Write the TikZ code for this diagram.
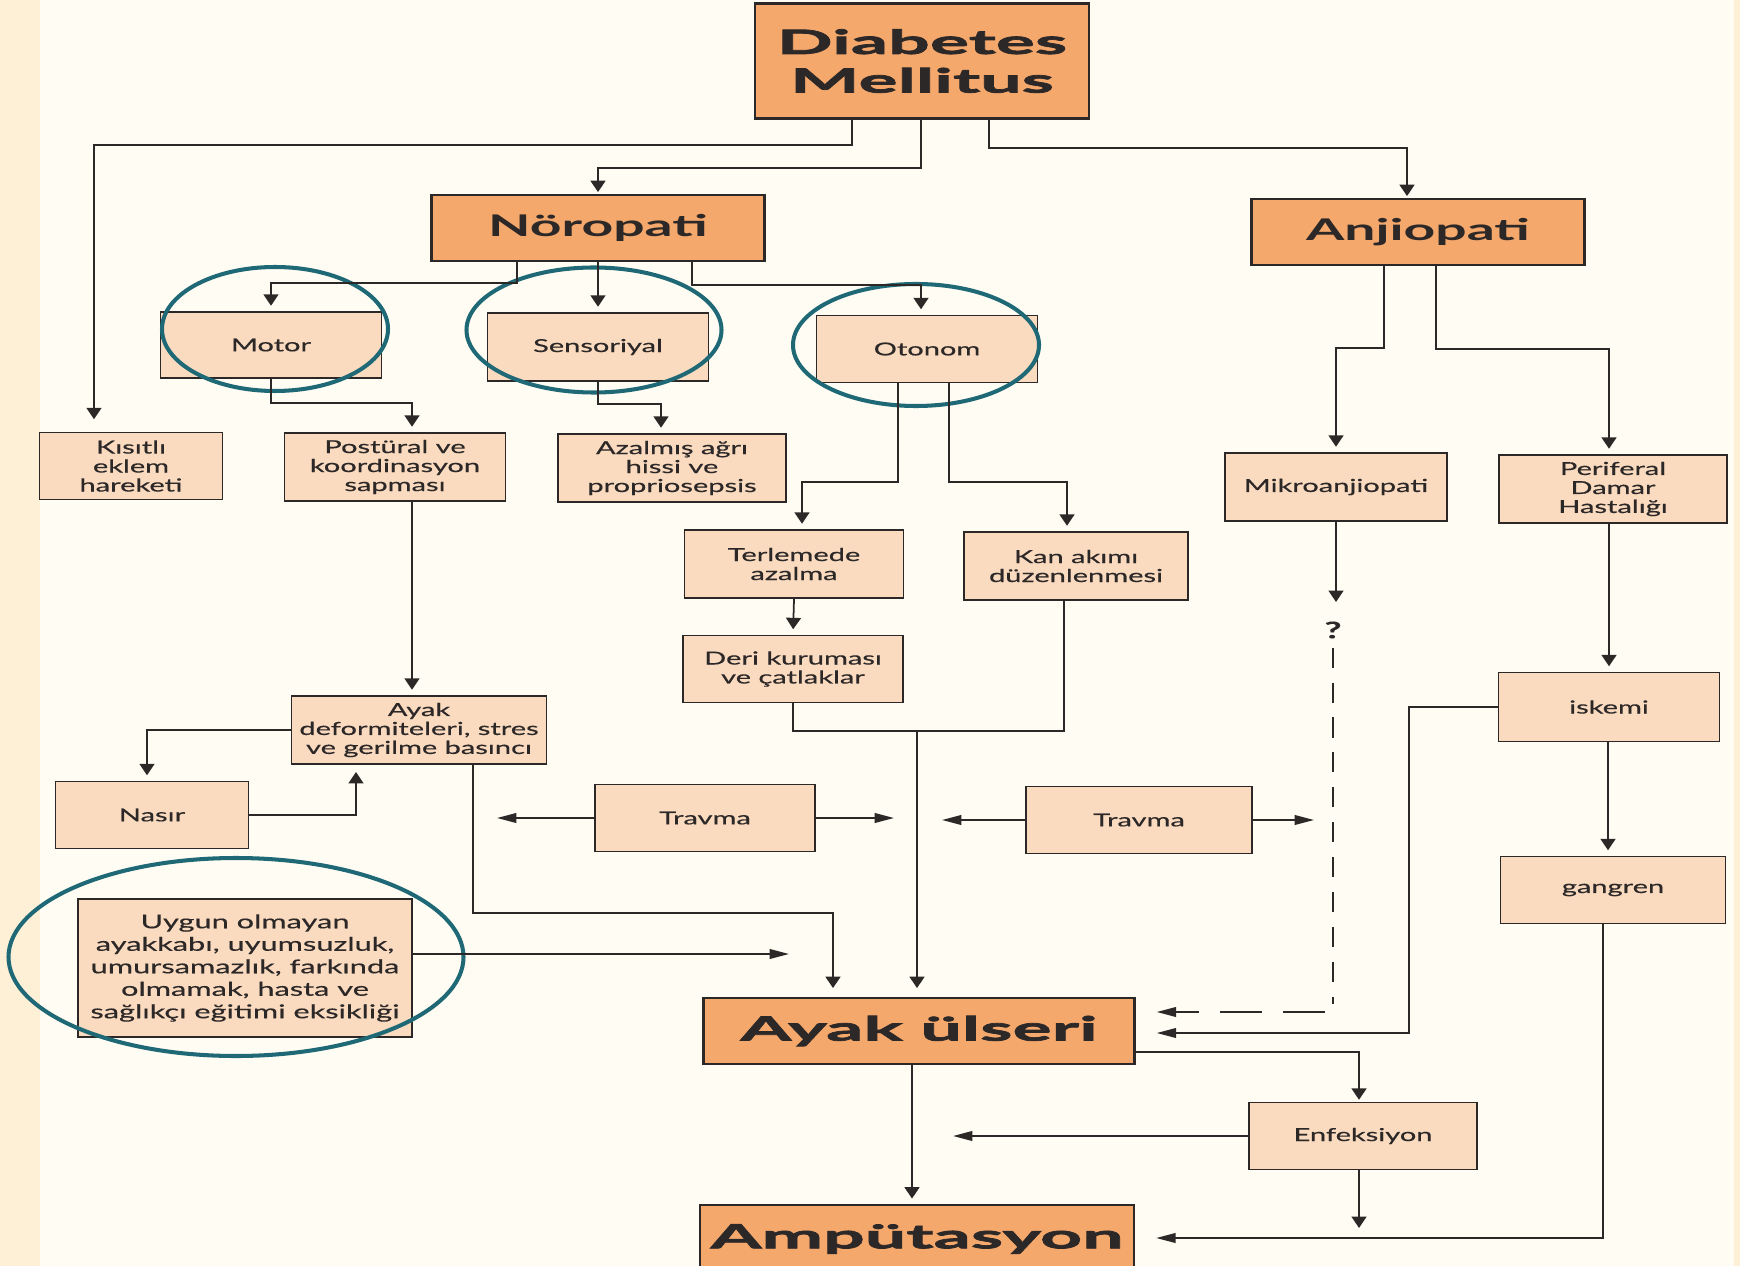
\documentclass[tikz,border=0pt]{standalone}
\usepackage{fontspec}
\setmainfont{Lato}[FakeStretch=1.62, FakeBold=0.4]
\newfontfamily\titlefont{Lato}[FakeStretch=1.85]
\newfontfamily\heavyfont{Lato}[FakeStretch=2.2, BoldFeatures={FakeBold=2.2}]
\usetikzlibrary{shapes.geometric,arrows.meta}

\definecolor{bgcream}{RGB}{255,253,243}
\definecolor{stripe}{RGB}{254,240,214}
\definecolor{darkorange}{RGB}{245,168,108}
\definecolor{peach}{RGB}{250,219,192}
\definecolor{ringteal}{RGB}{31,104,118}
\definecolor{inkgrey}{RGB}{45,40,40}

\begin{document}
\begin{tikzpicture}[%
    x=0.02cm, y=-0.02cm,
    boxsize/.style 2 args={%
        minimum width=#1*0.02cm,
        minimum height=#2*0.02cm
    },
    mainbox/.style={%
        draw=inkgrey,
        line width=1.3pt,
        fill=darkorange,
        inner sep=0pt,
        align=center,
        text=inkgrey,
        font=\heavyfont\bfseries\fontsize{19}{22}\selectfont
    },
    headbox/.style={%
        draw=inkgrey,
        line width=1.3pt,
        fill=darkorange,
        inner sep=0pt,
        align=center,
        text=inkgrey,
        font=\titlefont\bfseries\fontsize{17}{20}\selectfont
    },
    subbox/.style={%
        draw=inkgrey,
        line width=1.1pt,
        fill=peach,
        inner sep=0pt,
        align=center,
        text=inkgrey,
        font=\fontsize{10.2}{10.8}\selectfont
    },
    ring/.style={%
        draw=ringteal,
        line width=2.3pt,
        ellipse,
        inner sep=0pt
    },
    qmark/.style={%
        inner sep=1pt,
        text=inkgrey,
        font=\bfseries\fontsize{13}{14}\selectfont
    },
    link/.style={draw=inkgrey, line width=1pt},
    flow/.style={link, ->, shorten >=3pt},
    flowh/.style={link, -{Triangle[length=11pt,width=5.5pt]}},
    >={Triangle[length=6.5pt,width=8.5pt]}
]

% Page
    \fill[bgcream] (0,0) rectangle (1740,1266);
    \fill[stripe] (0,0) rectangle (40,1266);
    \fill[stripe] (1734,0) rectangle (1740,1266);
    \useasboundingbox (0,0) rectangle (1740,1266);

% Top level
    \node[mainbox, boxsize={334}{115}] (dm) at (922,61) {Diabetes\\Mellitus};
    \node[headbox, boxsize={333}{66}] (noro) at (598,228) {Nöropati};
    \node[headbox, boxsize={333}{66}] (anjio) at (1418,232) {Anjiopati};

% Neuropathy branch
    \node[subbox, boxsize={221}{66}] (motor) at (271,345) {Motor};
    \node[subbox, boxsize={221}{68}] (senso) at (598,347) {Sensoriyal};
    \node[subbox, boxsize={221}{67}] (otonom) at (927,349) {Otonom};

    \node[subbox, boxsize={183}{67}] (kisitli) at (131,466) {Kısıtlı\\eklem\\hareketi};
    \node[subbox, boxsize={221}{68}] (postural) at (395,467) {Postüral ve\\koordinasyon\\sapması};
    \node[subbox, boxsize={228}{68}] (azalmis) at (672,468) {Azalmış ağrı\\hissi ve\\propriosepsis};
    \node[subbox, boxsize={219}{68}] (terleme) at (794,564) {Terlemede\\azalma};
    \node[subbox, boxsize={224}{68}] (kan) at (1076,566) {Kan akımı\\düzenlenmesi};
    \node[subbox, boxsize={220}{67}] (deri) at (793,669) {Deri kuruması\\ve çatlaklar};

    \node[subbox, boxsize={255}{68}] (ayakdef) at (419,730) {Ayak\\deformiteleri, stres\\ve gerilme basıncı};
    \node[subbox, boxsize={193}{67}] (nasir) at (152,815) {Nasır};
    \node[subbox, boxsize={220}{67}] (travma1) at (705,818) {Travma};
    \node[subbox, boxsize={226}{67}] (travma2) at (1139,820) {Travma};
    \node[subbox, boxsize={334}{138}, font=\fontsize{10.8}{12.8}\selectfont] (uygun) at (245,968)
        {Uygun olmayan\\ayakkabı, uyumsuzluk,\\umursamazlık, farkında\\olmamak, hasta ve\\sağlıkçı eğitimi eksikliği};

% Angiopathy branch
    \node[subbox, boxsize={222}{68}] (mikro) at (1336,487) {Mikroanjiopati};
    \node[subbox, boxsize={228}{68}] (periferal) at (1613,489) {Periferal\\Damar\\Hastalığı};
    \node[subbox, boxsize={221}{69}] (iskemi) at (1609,707) {iskemi};
    \node[subbox, boxsize={225}{67}] (gangren) at (1613,890) {gangren};
    \node[qmark] (q) at (1333,630) {?};

% Outcome
    \node[mainbox, boxsize={431}{66}] (ulser) at (919,1031) {Ayak ülseri};
    \node[subbox, boxsize={228}{67}] (enfek) at (1363,1136) {Enfeksiyon};
    \node[mainbox, boxsize={434}{68}] (amput) at (917,1239) {Ampütasyon};

% Rings
    \node[ring, boxsize={226}{124}] (motorring) at (275,329) {};
    \node[ring, boxsize={255}{125}] (sensoring) at (594,330) {};
    \node[ring, boxsize={246}{122}] (otonomring) at (916,345) {};
    \node[ring, boxsize={455}{198}] (uygunring) at (236,957) {};

% Free ends
    \coordinate (merge) at (917,731);
    \coordinate (uygunend) at (789,954);
    \coordinate (travma1l) at (497,818);
    \coordinate (travma1r) at (894,818);
    \coordinate (travma2l) at (942,820);
    \coordinate (travma2r) at (1314,820);
    \coordinate (mikroend) at (1336,602);
    \coordinate (enfekl) at (953,1136);
    \coordinate (enfekd) at (1359,1228);

% Arrows
\draw[flow, shorten >=7pt] (852,0 |- dm.south) |- (94,145) -- (94,0 |- kisitli.north);
\draw[flow, shorten >=1pt] (921,0 |- dm.south) |- (598,168) -- (noro.north);
\draw[flow, shorten >=1pt] (989,0 |- dm.south) |- (1407,148) -- (1407,0 |- anjio.north);

\draw[flow] (517,0 |- noro.south) |- (271,283) -- (motor.north);
\draw[flow] (noro.south) -- (senso.north);
\draw[flow] (692,0 |- noro.south) |- (921,285) -- (921,0 |- otonom.north);

\draw[flow] (motor.south) |- (412,403) -- (412,0 |- postural.north);
\draw[flow] (senso.south) |- (661,404) -- (661,0 |- azalmis.north);
\draw[flow] (412,0 |- postural.south) -- (412,0 |- ayakdef.north);

\draw[flow] (898,0 |- otonom.south) |- (802,482) -- (802,0 |- terleme.north);
\draw[flow] (949,0 |- otonom.south) |- (1067,482) -- (1067,0 |- kan.north);
\draw[flow] (terleme.south) -- (deri.north);
\draw[link] (793,0 |- deri.south) |- (1064,731) -- (1064,0 |- kan.south);
\draw[flow, shorten >=5pt] (merge) -- (917,0 |- ulser.north);

\draw[flow] (ayakdef.west) -| (147,0 |- nasir.north);
\draw[flow, shorten >=4pt] (nasir.east) -| (356,0 |- ayakdef.south);
\draw[flow, shorten >=5pt] (473,0 |- ayakdef.south) |- (833,913) -- (833,0 |- ulser.north);
\draw[flowh] (uygun.east |- 0,954) -- (uygunend);

\draw[flowh] (travma1.west) -- (travma1l);
\draw[flowh] (travma1.east) -- (travma1r);
\draw[flowh] (travma2.west) -- (travma2l);
\draw[flowh] (travma2.east) -- (travma2r);

\draw[flow] (1384,0 |- anjio.south) |- (1336,348) -- (mikro.north);
\draw[flow] (1436,0 |- anjio.south) |- (1609,349) -- (1609,0 |- periferal.north);
\draw[flow, shorten >=0pt] (mikro.south) -- (mikroend);
\draw[link, dash pattern=on 11.4pt off 8.5pt] ([yshift=-4pt]q.south) -- (1333,1004);
\draw[flowh, dash pattern=on 24pt off 12pt, shorten >=12pt] (1325,1012) -- (ulser.east |- 0,1012);

\draw[flow] (1609,0 |- periferal.south) -- (iskemi.north);
\draw[flow] (1608,0 |- iskemi.south) -- (1608,0 |- gangren.north);
\draw[flowh, shorten >=12pt] (iskemi.west) -| (1409,1033) -- (ulser.east |- 0,1033);
\draw[flowh, shorten >=12pt] (1603,0 |- gangren.south) |- (amput.east |- 0,1238);

\draw[flow] (912,0 |- ulser.south) -- (912,0 |- amput.north);
\draw[flow, shorten >=1pt] (ulser.east |- 0,1052) -| (1359,0 |- enfek.north);
\draw[flowh] (enfek.west |- 0,1136) -- (enfekl);
\draw[flow, shorten >=0pt] (1359,0 |- enfek.south) -- (enfekd);

\end{tikzpicture}
\end{document}
